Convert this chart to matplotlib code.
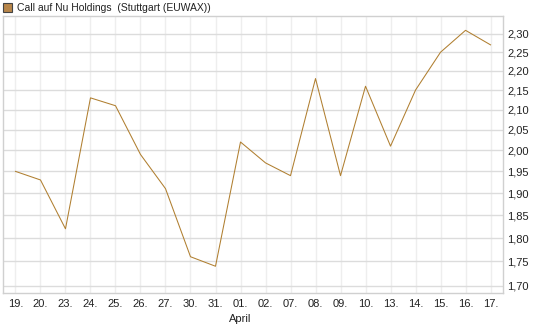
import matplotlib.pyplot as plt
from matplotlib.patches import Rectangle
from matplotlib.ticker import FixedLocator, FuncFormatter, NullLocator

plt.rcParams["font.family"] = ["Liberation Sans", "DejaVu Sans"]

dates = ["19.", "20.", "23.", "24.", "25.", "26.", "27.", "30.", "31.", "01.",
         "02.", "07.", "08.", "09.", "10.", "13.", "14.", "15.", "16.", "17."]
prices = [1.95, 1.93, 1.82, 2.13, 2.11, 1.99, 1.91, 1.76, 1.74, 2.02,
          1.97, 1.94, 2.18, 1.94, 2.16, 2.01, 2.15, 2.25, 2.31, 2.27]
y_ticks = [1.70, 1.75, 1.80, 1.85, 1.90, 1.95, 2.00, 2.05, 2.10, 2.15, 2.20, 2.25, 2.30]
month_label = "April"
month_at = "01."
title = "Call auf Nu Holdings  (Stuttgart (EUWAX))"

LINE = "#b07f30"

fig = plt.figure(figsize=(5.45, 3.27), dpi=100)
ax = fig.add_axes([0.005, 0.104, 0.918, 0.847])

x = list(range(len(dates)))
ax.plot(x, prices, color=LINE, linewidth=0.75, zorder=3)

ax.set_yscale("log")
ax.set_ylim(1.685, 2.350)
ax.set_xlim(-0.51, len(dates) - 0.5)
ax.yaxis.set_major_locator(FixedLocator(y_ticks))
ax.yaxis.set_minor_locator(NullLocator())
ax.yaxis.set_major_formatter(FuncFormatter(lambda v, p: f"{v:.2f}".replace(".", ",")))
ax.yaxis.tick_right()
ax.set_xticks(x)
ax.set_xticklabels(dates)

ax.grid(axis="y", color="#dcdcdc", linewidth=1.0, zorder=0)
ax.grid(axis="x", color="#eeeeee", linewidth=1.0, zorder=0)
ax.tick_params(axis="both", length=0, labelsize=8, colors="#222222")
ax.tick_params(axis="y", pad=3)
ax.tick_params(axis="x", pad=4)
for sp in ax.spines.values():
    sp.set_color("#d0d0d0")
    sp.set_linewidth(1.0)

ax.text(dates.index(month_at), -0.075, month_label, transform=ax.get_xaxis_transform(),
        ha="center", va="top", fontsize=8, color="#222222")

fig.patches.append(Rectangle((3 / 545, 1 - 12 / 327), 9 / 545, 9 / 327,
                             transform=fig.transFigure, facecolor="#b8864a",
                             edgecolor="#444444", linewidth=0.8))
fig.text(17 / 545, 1 - 8 / 327, title, ha="left", va="center", fontsize=7.5, color="#222222")

fig.savefig("out.png", dpi=100)
